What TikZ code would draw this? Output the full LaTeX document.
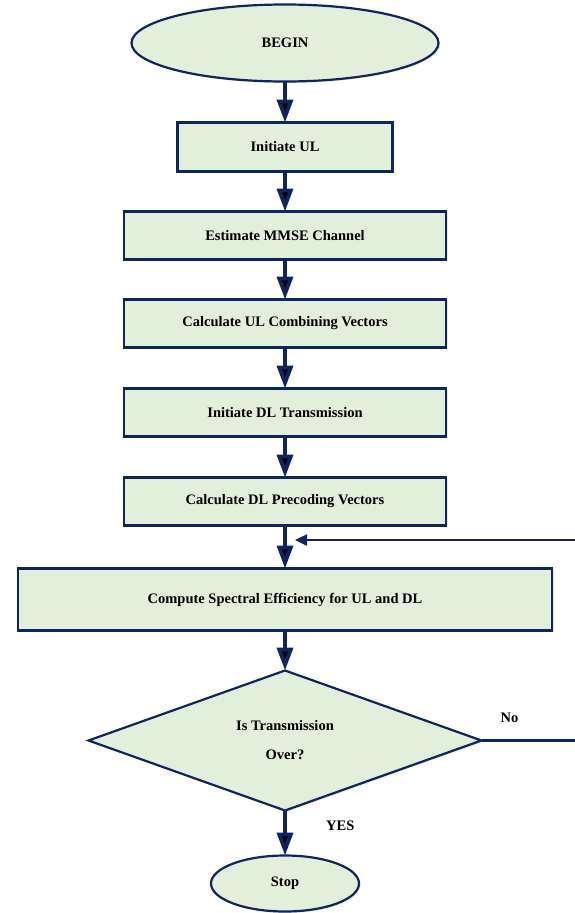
\documentclass[tikz,border=0pt]{standalone}
\usepackage{fontspec}
\setmainfont{Liberation Serif}
\usepackage{xcolor}
\usetikzlibrary{shapes.geometric, arrows.meta, positioning, shadows}
\definecolor{navy}{HTML}{0D2563}
\definecolor{palegreen}{HTML}{E2EFDA}
\begin{document}
\begin{tikzpicture}[x=1pt, y=1pt, font=\bfseries\fontsize{14.5}{17}\selectfont,
	flow/.style={-{Triangle[length=23pt,width=16pt]}, line width=3.8pt, draw=navy},
	back/.style={-{Triangle[length=12pt,width=11pt]}, line width=2.4pt, draw=navy},
	base/.style={draw=navy, fill=palegreen, line width=2.2pt, inner sep=0pt, outer sep=0pt,
		drop shadow={opacity=0.18, shadow xshift=1.5pt, shadow yshift=-1.5pt}},
	terminal/.style={base, ellipse},
	process/.style={base, rectangle, minimum height=48pt, minimum width=322pt},
	decision/.style={base, diamond, minimum width=393pt, minimum height=140pt, align=center}]
	\useasboundingbox (0,0) rectangle (575,-913);
	\node[terminal, minimum width=307pt, minimum height=77pt] (1) at (285,-43) {BEGIN};
	\node[process, minimum width=215pt, minimum height=49pt] (2) [below=41pt of 1] {Initiate UL};
	\node[process] (3) [below=40pt of 2] {Estimate MMSE Channel};
	\node[process] (4) [below=40pt of 3] {Calculate UL Combining Vectors};
	\node[process] (5) [below=41pt of 4] {Initiate DL Transmission};
	\node[process] (6) [below=41pt of 5] {Calculate DL Precoding Vectors};
	\node[process, minimum width=534pt, minimum height=62pt] (7) [below=43pt of 6] {Compute Spectral Efficiency for UL and DL};
	\node[decision, font=\bfseries\fontsize{14.5}{29}\selectfont] (8) [below=40pt of 7] {Is Transmission\\Over?};
	\node[terminal, minimum width=148pt, minimum height=56pt] (9) [below=45pt of 8] {Stop};
	
	\coordinate (backin) at (575,-540);
	\coordinate (backtip) at (295,-540);
	\coordinate (noend) at (8.east -| backin);
	
	\path[flow] (1) edge (2)
	(2) edge (3)
	(3) edge (4)
	(4) edge (5)
	(5) edge (6)
	(6) edge (7)
	(7) edge (8)
	(8) edge node[pos=0.35, right=36pt] {YES} (9);
	\draw[navy, line width=2.2pt] (8.east) -- node[pos=0.3, above=13pt, black] {No} (noend);
	\draw[back] (backin) -- (backtip);
\end{tikzpicture}
\end{document}
